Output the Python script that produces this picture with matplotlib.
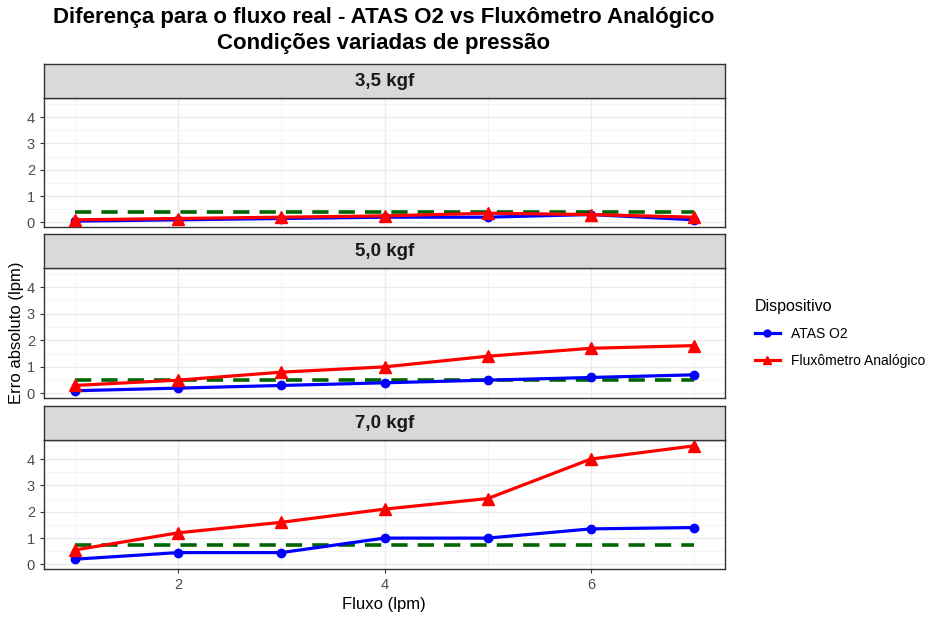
import numpy as np
import matplotlib
matplotlib.use("Agg")
import matplotlib.pyplot as plt
from matplotlib.lines import Line2D

plt.rcParams['font.family'] = ['Liberation Sans', 'DejaVu Sans']

# data
fluxo = [1, 2, 3, 4, 5, 6, 7]
pressoes = ['3,5 kgf', '5,0 kgf', '7,0 kgf']
atas = [
    [0.05, 0.1, 0.15, 0.2, 0.2, 0.3, 0.1],
    [0.1, 0.2, 0.3, 0.4, 0.5, 0.6, 0.7],
    [0.2, 0.45, 0.45, 1.0, 1.0, 1.35, 1.4],
]
analogico = [
    [0.1, 0.15, 0.2, 0.25, 0.35, 0.3, 0.2],
    [0.3, 0.5, 0.8, 1.0, 1.4, 1.7, 1.8],
    [0.55, 1.2, 1.6, 2.1, 2.5, 4.0, 4.5],
]
tolerancia = [0.4, 0.5, 0.75]

W, H = 941, 623
fig = plt.figure(figsize=(W / 100, H / 100), dpi=100)

def box(x0, y0, x1, y1):
    # pixel box (top-left origin) -> figure fraction
    return [x0 / W, 1 - y1 / H, (x1 - x0) / W, (y1 - y0) / H]

panels = [(98, 227), (268, 398), (440, 569)]
strip_h = 34

allv = np.concatenate([np.ravel(atas), np.ravel(analogico), tolerancia])
ylo, yhi = allv.min(), allv.max()
yexp = 0.05 * (yhi - ylo)
xexp = 0.05 * (max(fluxo) - min(fluxo))

for i, (top, bot) in enumerate(panels):
    ax = fig.add_axes(box(44, top, 725, bot))
    ax.set_xlim(min(fluxo) - xexp, max(fluxo) + xexp)
    ax.set_ylim(ylo - yexp, yhi + yexp)
    ax.set_yticks([0, 1, 2, 3, 4])
    ax.set_yticks(np.arange(0.5, 4.6, 1), minor=True)
    ax.set_xticks([2, 4, 6])
    ax.set_xticks([1, 3, 5, 7], minor=True)
    ax.grid(True, which='major', color='#ebebeb', lw=1.0)
    ax.grid(True, which='minor', color='#f2f2f2', lw=0.6)
    ax.set_axisbelow(True)
    for s in ax.spines.values():
        s.set_color('#333333')
        s.set_linewidth(1.0)
    ax.tick_params(which='major', length=3, color='#333333', labelcolor='#4d4d4d',
                   labelsize=10.5)
    ax.tick_params(which='minor', length=0)
    if i < 2:
        ax.tick_params(axis='x', labelbottom=False, length=0)

    ax.plot(fluxo, [tolerancia[i]] * len(fluxo), color='#006400', lw=2.6,
            ls=(0, (4.5, 2.8)), zorder=2)
    ax.plot(fluxo, atas[i], color='#0000ff', lw=2.3, marker='o', ms=6, zorder=3)
    ax.plot(fluxo, analogico[i], color='#ff0000', lw=2.3, marker='^', ms=8, zorder=4)

    # facet strip
    sax = fig.add_axes(box(44, top - strip_h, 725, top))
    sax.set_facecolor('#d9d9d9')
    sax.set_xticks([])
    sax.set_yticks([])
    for s in sax.spines.values():
        s.set_color('#333333')
        s.set_linewidth(1.0)
    sax.text(0.5, 0.5, pressoes[i], ha='center', va='center', fontsize=13.5,
             fontweight='bold', color='#1a1a1a', transform=sax.transAxes)

fig.text(384 / W, 1 - 18 / H, 'Diferença para o fluxo real - ATAS O2 vs Fluxômetro Analógico',
         ha='center', va='center', fontsize=16, fontweight='bold')
fig.text(384 / W, 1 - 43 / H, 'Condições variadas de pressão',
         ha='center', va='center', fontsize=16, fontweight='bold')
fig.text(384 / W, 1 - 605 / H, 'Fluxo (lpm)', ha='center', va='center', fontsize=12)
fig.text(17 / W, 1 - 333 / H, 'Erro absoluto (lpm)', ha='center', va='center',
         fontsize=12, rotation=90)

handles = [
    Line2D([], [], color='#0000ff', lw=2.3, marker='o', ms=5),
    Line2D([], [], color='#ff0000', lw=2.3, marker='^', ms=6),
]
leg = fig.legend(handles, ['ATAS O2', 'Fluxômetro Analógico'], title='Dispositivo',
                 loc='upper left', bbox_to_anchor=(742 / W, 1 - 286 / H),
                 frameon=False, fontsize=10, title_fontsize=11.5,
                 handlelength=1.8, labelspacing=0.95, alignment='left')

fig.savefig('out.png', dpi=100, facecolor='white')
